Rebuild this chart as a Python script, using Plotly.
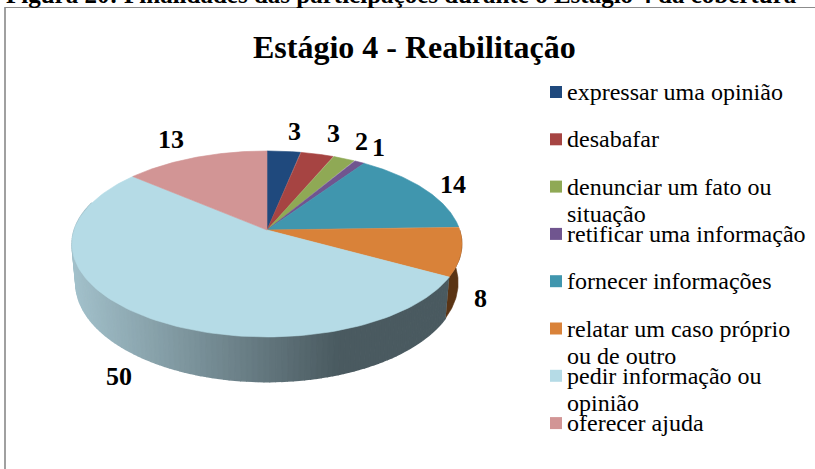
import numpy as np
import plotly.graph_objects as go

# ---- data ----
categories = ["expressar uma opinião", "desabafar", "denunciar um fato ou<br>situação",
              "retificar uma informação", "fornecer informações",
              "relatar um caso próprio<br>ou de outro", "pedir informação ou<br>opinião", "oferecer ajuda"]
values = [3, 3, 2, 1, 14, 8, 50, 13]
colors = ["#1f497d", "#a64442", "#8fa955", "#70558f", "#4096ae", "#d98239", "#b5dbe6", "#d29595"]
side_colors = ["#10253f", "#632523", "#4f6228", "#3f3151", "#215968", "#5a3414", None, "#7a4f4f"]

title = "Estágio 4 - Reabilitação"
caption = "Figura 20: Finalidades das participações durante o Estágio 4 da cobertura"

# ---- layout constants (pixels) ----
W, H = 815, 469
CX, CY, A, B, K = 267, 230, 192.8, 90.9, 0.15       # top face projection
BCY, BA, BB = 268, 189, 96.6                        # bottom rim projection
label_xy = [(294, 131), (333, 133), (361, 141), (378, 147), (453, 184), (480, 298), (119, 376), (171, 139)]
legend_x, legend_y0, legend_dy, line_dy = 566, 92, 47.3, 27


def top(t):
    d = 1 + K * np.cos(t)
    return CX + A * np.sin(t) / d, CY - B * np.cos(t) / d


def bot(t):
    d = 1 + K * np.cos(t)
    return CX + BA * np.sin(t) / d, BCY - BB * np.cos(t) / d


def poly(x, y, color, name="", lw=0.6):
    return go.Scatter(x=list(x), y=list(y), mode="lines", fill="toself", fillcolor=color,
                      line=dict(color=color, width=lw), hoverinfo="skip" if not name else "text",
                      text=name, showlegend=False)


def gradient(x):
    f = np.clip((x - 76) / (340 - 76), 0, 1)
    c0, c1 = np.array([162, 192, 202]), np.array([74, 90, 96])
    r, g, b = (c0 + (c1 - c0) * f).astype(int)
    return f"rgb({r},{g},{b})"


fig = go.Figure()
edges = 2 * np.pi * np.cumsum([0] + values) / sum(values)

# side walls
for i, col in enumerate(side_colors):
    a0, a1 = edges[i], edges[i + 1]
    if a1 < np.pi / 2 or a0 > 1.6 * np.pi:
        continue
    a0 = max(a0, np.pi / 2)
    a1 = min(a1, 1.6 * np.pi)
    if col is not None:
        t = np.linspace(a0, a1, 40)
        xt, yt = top(t)
        xb, yb = bot(t[::-1])
        fig.add_trace(poly(np.r_[xt, xb], np.r_[yt, yb], col))
    else:
        steps = np.linspace(a0, a1, int((a1 - a0) / np.radians(1.5)) + 1)
        for s0, s1 in zip(steps[::-1][:-1], steps[::-1][1:]):
            t = np.array([s1, s0])
            xt, yt = top(t)
            xb, yb = bot(t[::-1])
            fig.add_trace(poly(np.r_[xt, xb], np.r_[yt, yb], gradient(xt.mean()), lw=1.5))

# top faces
for i, col in enumerate(colors):
    t = np.linspace(edges[i], edges[i + 1], 120)
    xt, yt = top(t)
    fig.add_trace(poly(np.r_[CX, xt, CX], np.r_[CY, yt, CY], col,
                       f"{categories[i].replace('<br>', ' ')}: {values[i]}"))

# legend swatches
for i, col in enumerate(colors):
    fig.add_trace(go.Scatter(x=[556], y=[legend_y0 + i * legend_dy], mode="markers",
                             marker=dict(symbol="square", size=12, color=col, line=dict(width=0)),
                             hoverinfo="skip", showlegend=False))

FONT = "Liberation Serif"
ann = []
for i, lab in enumerate(categories):
    for j, line in enumerate(lab.split("<br>")):
        ann.append(dict(x=legend_x, y=legend_y0 + i * legend_dy + j * line_dy, text=line, showarrow=False,
                        xanchor="left", yanchor="middle", xshift=-1,
                        font=dict(family=FONT, size=24, color="#000")))
for (x, y), v in zip(label_xy, values):
    ann.append(dict(x=x, y=y, text=f"<b>{v}</b>", showarrow=False, xanchor="center", yanchor="middle",
                    font=dict(family=FONT, size=26, color="#000")))
ann.append(dict(x=414, y=47, text=f"<b>{title}</b>", showarrow=False, xanchor="center", yanchor="middle",
                font=dict(family=FONT, size=32, color="#000")))
ann.append(dict(x=4, y=0, yshift=6, text=f"<b>{caption}</b>", showarrow=False, xanchor="left", yanchor="middle",
                font=dict(family=FONT, size=25, color="#000")))

shapes = [
    dict(type="line", x0=5, x1=5, y0=7, y1=H, line=dict(color="#a0a0a0", width=2)),
    dict(type="line", x0=5, x1=W, y0=7.5, y1=7.5, line=dict(color="#8c8c8c", width=1)),
]

fig.update_layout(
    width=W, height=H, margin=dict(l=0, r=0, t=0, b=0), paper_bgcolor="white", plot_bgcolor="white",
    xaxis=dict(range=[0, W], visible=False, fixedrange=True),
    yaxis=dict(range=[H, 0], visible=False, fixedrange=True),
    annotations=ann, shapes=shapes, showlegend=False,
)
fig.write_html("out.html", config={"displayModeBar": False},
               post_script="document.body.style.margin='0';document.body.style.overflow='hidden';")
